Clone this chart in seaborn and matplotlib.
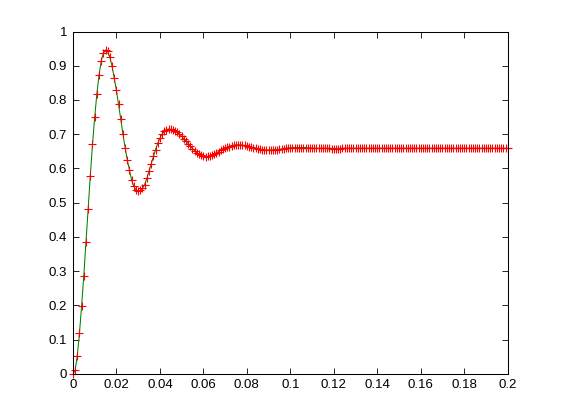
import matplotlib
matplotlib.use("Agg")
import matplotlib.pyplot as plt
import seaborn as sns
import numpy as np
import pandas as pd
from matplotlib.ticker import FuncFormatter

# time in seconds (1 ms steps) and step response
time_ms = list(range(0, 201))
response = [
    0.000, 0.010, 0.053, 0.118, 0.199, 0.287, 0.384, 0.482, 0.579, 0.670,
    0.749, 0.817, 0.873, 0.913, 0.937, 0.946, 0.942, 0.925, 0.899, 0.863,
    0.828, 0.787, 0.744, 0.700, 0.661, 0.625, 0.595, 0.566, 0.548, 0.537,
    0.534, 0.536, 0.542, 0.553, 0.571, 0.592, 0.614, 0.635, 0.655, 0.673,
    0.688, 0.700, 0.708, 0.713, 0.715, 0.714, 0.712, 0.709, 0.705, 0.700,
    0.694, 0.687, 0.680, 0.672, 0.665, 0.658, 0.652, 0.646, 0.641, 0.638,
    0.635, 0.634, 0.635, 0.636, 0.639, 0.642, 0.645, 0.649, 0.653, 0.656,
    0.659, 0.662, 0.664, 0.666, 0.668, 0.669, 0.669, 0.669, 0.668, 0.667,
    0.666, 0.664, 0.662, 0.661, 0.659, 0.658, 0.656, 0.655, 0.655, 0.654,
    0.654, 0.654, 0.654, 0.655, 0.655, 0.656, 0.657, 0.658, 0.659, 0.660,
    0.660, 0.661, 0.661, 0.661, 0.661, 0.661, 0.661, 0.661, 0.660, 0.660,
    0.660, 0.659, 0.659, 0.659, 0.659, 0.659, 0.659, 0.659, 0.659, 0.658,
    0.658, 0.658, 0.658, 0.658, 0.659, 0.659, 0.659, 0.659, 0.659, 0.659,
    0.659, 0.659, 0.659, 0.659, 0.659, 0.659, 0.659, 0.659, 0.659, 0.659,
    0.659, 0.659, 0.659, 0.659, 0.659, 0.659, 0.659, 0.659, 0.659, 0.659,
    0.659, 0.659, 0.659, 0.659, 0.659, 0.659, 0.659, 0.659, 0.659, 0.659,
    0.659, 0.659, 0.659, 0.659, 0.659, 0.659, 0.659, 0.659, 0.659, 0.659,
    0.659, 0.659, 0.659, 0.659, 0.659, 0.659, 0.659, 0.659, 0.659, 0.659,
    0.659, 0.659, 0.659, 0.659, 0.659, 0.659, 0.659, 0.659, 0.659, 0.659,
    0.659, 0.659, 0.659, 0.659, 0.659, 0.659, 0.659, 0.659, 0.659, 0.659,
    0.659,
]
x_ticks = [0, 0.02, 0.04, 0.06, 0.08, 0.1, 0.12, 0.14, 0.16, 0.18, 0.2]
y_ticks = [0, 0.1, 0.2, 0.3, 0.4, 0.5, 0.6, 0.7, 0.8, 0.9, 1]

df = pd.DataFrame({"t": np.array(time_ms) / 1000.0, "y": response})

sns.set_style("white")
plt.rcParams["font.family"] = ["Liberation Sans", "DejaVu Sans"]

fig = plt.figure(figsize=(5.61, 4.2), dpi=100)
fig.patch.set_facecolor("white")
ax = fig.add_axes([0.13, 0.11, 0.775, 0.815])

sns.lineplot(data=df, x="t", y="y", ax=ax, color=(0, 0.5, 0), linewidth=0.75,
             sort=False, estimator=None)
sns.lineplot(data=df, x="t", y="y", ax=ax, color="red", marker="+",
             linestyle="none", markersize=6, markeredgewidth=0.8,
             markeredgecolor="red", sort=False, estimator=None, clip_on=False)

ax.set_xlim(0, 0.2)
ax.set_ylim(0, 1)
ax.set_xticks(x_ticks)
ax.set_yticks(y_ticks)
fmt = FuncFormatter(lambda v, p: ("%g" % round(v, 4)))
ax.xaxis.set_major_formatter(fmt)
ax.yaxis.set_major_formatter(fmt)
ax.set_xlabel("")
ax.set_ylabel("")
for s in ax.spines.values():
    s.set_visible(True)
    s.set_color("black")
    s.set_linewidth(0.75)
ax.tick_params(direction="in", length=4, width=0.6, colors="black",
               labelsize=9.5, top=True, right=True, left=True, bottom=True,
               pad=4)
ax.set_facecolor("white")

fig.savefig("out.png", dpi=100, facecolor="white")
